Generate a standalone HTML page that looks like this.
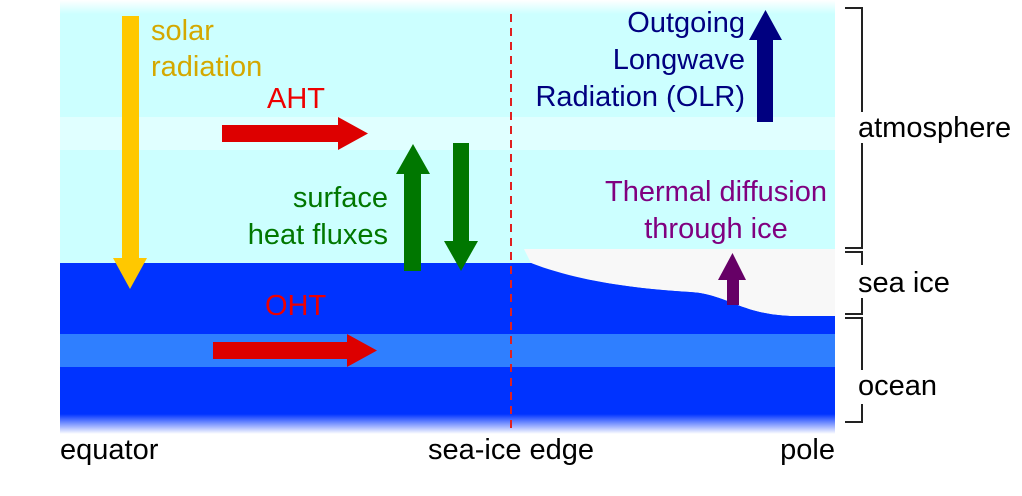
<!DOCTYPE html>
<html><head><style>
body{margin:0;background:#fff;}
svg text{font-family:"Liberation Sans",sans-serif;font-size:29px;}
</style></head><body>
<svg width="1022" height="491" viewBox="0 0 1022 491" xmlns="http://www.w3.org/2000/svg">
<defs>
<linearGradient id="top" x1="0" y1="0" x2="0" y2="1"><stop offset="0" stop-color="#fff"/><stop offset="1" stop-color="#ccffff"/></linearGradient>
<linearGradient id="bot" x1="0" y1="0" x2="0" y2="1"><stop offset="0" stop-color="#0033ff"/><stop offset="1" stop-color="#fff"/></linearGradient>
</defs>
<rect x="60" y="0" width="775" height="14" fill="url(#top)"/>
<rect x="60" y="14" width="775" height="250" fill="#ccffff"/>
<rect x="60" y="117" width="775" height="33" fill="#e0ffff"/>
<rect x="60" y="263" width="775" height="152" fill="#0033ff"/>
<rect x="60" y="334" width="775" height="33" fill="#2f7fff"/>
<rect x="60" y="414" width="775" height="20" fill="url(#bot)"/>
<path d="M511,249 L835,249 L835,316 L790,316 C770,315 755,312 735,304 C715,296 705,293 690,292 C640,289 580,282 535,265 L531,263 L511,263 Z" fill="#f8f8f8"/>
<path d="M511,249 L524,249 L531,263 L511,263Z" fill="#ccffff"/>
<path d="M511,263 L531,263 C580,282 640,289 690,292 C705,293 715,296 735,304 C755,312 770,315 790,316 L835,316 L835,334 L511,334Z" fill="#0033ff"/>
<line x1="511" y1="14" x2="511" y2="428" stroke="#e02020" stroke-width="2" stroke-dasharray="8,6"/>
<polygon points="122,16 139,16 139,258 147,258 130,289 113,258 122,258" fill="#ffc800"/>
<polygon points="222,125 338,125 338,117 368,133.5 338,150 338,142 222,142" fill="#dd0000"/>
<polygon points="213,342 347,342 347,334 377,350.5 347,367 347,359 213,359" fill="#dd0000"/>
<polygon points="404,271 404,174 396,174 413,144 430,174 421,174 421,271" fill="#007700"/>
<polygon points="453,143 469,143 469,241 478,241 461,271 444,241 453,241" fill="#007700"/>
<polygon points="757,122 757,40 749,40 765.5,10 782,40 773,40 773,122" fill="#000080"/>
<polygon points="727,305 727,280 718,280 732.5,253 746,280 739,280 739,305" fill="#660066"/>
<text x="151" y="40" fill="#d4a800">solar</text>
<text x="151" y="76" fill="#d4a800">radiation</text>
<text x="267" y="108" fill="#ee0000">AHT</text>
<text x="265" y="315" fill="#ee0000">OHT</text>
<text x="388" y="207" fill="#007700" text-anchor="end">surface</text>
<text x="388" y="244" fill="#007700" text-anchor="end">heat fluxes</text>
<text x="745" y="32" fill="#000080" text-anchor="end">Outgoing</text>
<text x="745" y="69" fill="#000080" text-anchor="end">Longwave</text>
<text x="745" y="106" fill="#000080" text-anchor="end">Radiation (OLR)</text>
<text x="716" y="201" fill="#800080" text-anchor="middle">Thermal diffusion</text>
<text x="716" y="238" fill="#800080" text-anchor="middle">through ice</text>
<text x="60" y="459" fill="#000">equator</text>
<text x="428" y="459" fill="#000">sea-ice edge</text>
<text x="835" y="459" fill="#000" text-anchor="end">pole</text>
<text x="858" y="137" fill="#000">atmosphere</text>
<text x="858" y="292" fill="#000">sea ice</text>
<text x="858" y="395" fill="#000">ocean</text>
<g stroke="#222" stroke-width="2" fill="none">
<polyline points="845,8 862,8 862,112"/>
<polyline points="862,143 862,248 845,248"/>
<polyline points="845,252 862,252 862,265"/>
<polyline points="862,298 862,314 845,314"/>
<polyline points="845,318 862,318 862,370"/>
<polyline points="862,404 862,422 845,422"/>
</g>
</svg>
</body></html>
